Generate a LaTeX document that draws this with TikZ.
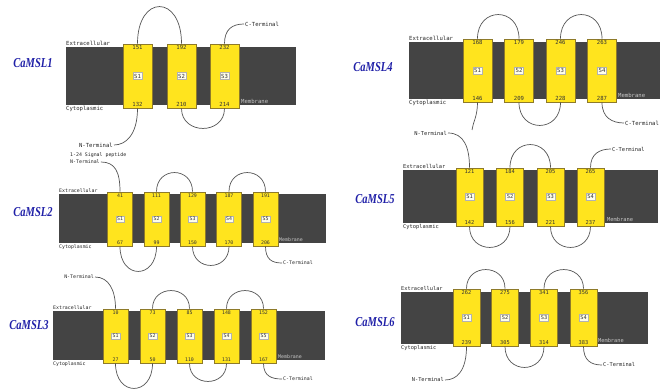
\documentclass[tikz,border=0pt]{standalone}
\usepackage{fontspec}
\newfontfamily\monof{DejaVu Sans Mono}
\newfontfamily\titlef{Liberation Serif}
\definecolor{membgray}{HTML}{444444}
\definecolor{boxfill}{HTML}{FFE41E}
\definecolor{boxedge}{HTML}{8E7A2A}
\definecolor{linegray}{HTML}{555555}
\definecolor{titleblue}{HTML}{2020A8}
\def\fs{5.6}
\tikzset{
  membrane/.style={fill=membgray},
  segbox/.style={rectangle, draw=boxedge, fill=boxfill, line width=0.9pt, inner sep=0pt},
  numtxt/.style={font=\monof\fontsize{\fs}{\fs}\selectfont, text=black!80, inner sep=0pt},
  slabel/.style={font=\monof\fontsize{\fs}{\fs}\selectfont, text=black!80, fill=white!92!yellow,
    draw=gray!60, line width=0.3pt, inner xsep=1.2pt, inner ysep=1.4pt},
  sidetxt/.style={font=\monof\fontsize{\fs}{\fs}\selectfont, text=black!85, inner sep=0pt},
  termtxt/.style={font=\monof\fontsize{\fs}{\fs}\selectfont, text=black!85, inner sep=1pt},
  memtxt/.style={font=\monof\fontsize{\fs}{\fs}\selectfont, text=gray!45, inner sep=0pt},
  conn/.style={draw=linegray, line width=0.7pt},
  title/.style={font=\titlef\bfseries\itshape\fontsize{10.5}{12}\selectfont, text=titleblue, inner sep=0pt},
}
% tall title lettering
\newcommand\tname[1]{\scalebox{1}[1.3]{#1}}
% one transmembrane segment: name, centre x, width, top y, bottom y, label, top residue, bottom residue
\newcommand\seg[8]{%
  \node[segbox, minimum width=#3pt, minimum height={(#5)-(#4)}] (#1) at (#2,{((#4)+(#5))/2}) {};
  \node[numtxt, anchor=north] (#1-t) at ([yshift=-2pt]#1.north) {#7};
  \node[numtxt, anchor=south] (#1-b) at ([yshift=2pt]#1.south) {#8};
  \node[slabel] (#1-l) at (#1.center) {#6};
}
% loops between the ends of two segments, with their height
\newcommand\uploop[3]{\draw[conn] (#1.north) .. controls +(0,{-4/3*(#3)}) and +(0,{-4/3*(#3)}) .. (#2.north);}
\newcommand\downloop[3]{\draw[conn] (#1.south) .. controls +(0,{4/3*(#3)}) and +(0,{4/3*(#3)}) .. (#2.south);}
% side labels of a membrane: name, left x, top y, bottom y, x of the membrane label
\newcommand\sides[5]{%
  \node[sidetxt, anchor=south west] (#1-ex) at (#2,{#3-1}) {Extracellular};
  \node[sidetxt, anchor=north west] (#1-cy) at (#2,{#4+1.5}) {Cytoplasmic};
  \node[memtxt, anchor=south west] (#1-mb) at (#5,{#4-1.5}) {Membrane};
}

\begin{document}
\begin{tikzpicture}[x=1pt,y=-1pt]
\useasboundingbox (0,0) rectangle (662,390);
\fill[white] (0,0) rectangle (662,390);

%% CaMSL1
\def\fs{5.6}
\node[title] (t1) at (33,63) {\tname{CaMSL1}};
\fill[membrane] (66,47) rectangle (296,105);
\sides{m1}{66}{47}{105}{241}
\seg{a1}{137.5}{29}{44}{108}{S1}{151}{132}
\seg{a2}{181.5}{29}{44}{108}{S2}{192}{210}
\seg{a3}{224.5}{29}{44}{108}{S3}{232}{214}
\uploop{a1}{a2}{37}
\downloop{a2}{a3}{20}
\node[termtxt, anchor=west] (a1C) at (244,24) {C-Terminal};
\draw[conn] (a3.north) .. controls +(0,-14) and +(-12,0) .. (a1C.west);
\node[termtxt, anchor=east] (a1N) at (114,145) {N-Terminal};
\draw[conn] (a1.south) .. controls +(0,26) and +(12,0) .. (a1N.east);

%% CaMSL4
\node[title] (t4) at (373,67) {\tname{CaMSL4}};
\fill[membrane] (409,42) rectangle (660,99);
\sides{m4}{409}{42}{99}{618}
\seg{d1}{477.5}{29}{39}{102}{S1}{168}{146}
\seg{d2}{519}{29}{39}{102}{S2}{179}{209}
\seg{d3}{560.5}{29}{39}{102}{S3}{246}{228}
\seg{d4}{602}{29}{39}{102}{S4}{263}{287}
\uploop{d1}{d2}{24}
\uploop{d3}{d4}{24}
\downloop{d2}{d3}{23}
\coordinate (d1N) at (472,130);
\draw[conn] (d1.south) .. controls +(0,14) and +(1,-8) .. (d1N);
\node[termtxt, anchor=west] (d4C) at (624,123) {C-Terminal};
\draw[conn] (d4.south) .. controls +(0,15) and +(-12,0) .. (d4C.west);

%% CaMSL2
\def\fs{4.9}
\node[title] (t2) at (33,212) {\tname{CaMSL2}};
\fill[membrane] (59,194) rectangle (326,243);
\sides{m2}{59}{194}{243}{279}
\seg{b1}{120}{25}{192}{246}{S1}{41}{67}
\seg{b2}{156.5}{25}{192}{246}{S2}{111}{99}
\seg{b3}{192.5}{25}{192}{246}{S3}{129}{150}
\seg{b4}{229}{25}{192}{246}{S4}{187}{170}
\seg{b5}{265.5}{25}{192}{246}{S5}{191}{206}
\uploop{b2}{b3}{19}
\uploop{b4}{b5}{19}
\downloop{b1}{b2}{25}
\downloop{b3}{b4}{19}
\node[termtxt, anchor=west] (b1P) at (69,155) {1-24 Signal peptide};
\node[termtxt, anchor=west] (b1N) at (69,162) {N-Terminal};
\draw[conn] (b1N.east) .. controls +(14,0) and +(0,-20) .. (b1.north);
\node[termtxt, anchor=west] (b5C) at (282,263) {C-Terminal};
\draw[conn] (b5.south) .. controls +(0,13) and +(-10,0) .. (b5C.west);

%% CaMSL3
\node[title] (t3) at (29,325) {\tname{CaMSL3}};
\fill[membrane] (53,311) rectangle (325,360);
\sides{m3}{53}{311}{360}{278}
\seg{c1}{115.5}{25}{309}{363}{S1}{10}{27}
\seg{c2}{152.5}{25}{309}{363}{S2}{73}{50}
\seg{c3}{189.5}{25}{309}{363}{S3}{85}{110}
\seg{c4}{226.5}{25}{309}{363}{S4}{148}{131}
\seg{c5}{263.5}{25}{309}{363}{S5}{152}{167}
\uploop{c2}{c3}{18}
\uploop{c4}{c5}{18}
\downloop{c1}{c2}{25}
\downloop{c3}{c4}{18}
\node[termtxt, anchor=east] (c1N) at (95,277) {N-Terminal};
\draw[conn] (c1N.east) .. controls +(14,0) and +(0,-18) .. (c1.north);
\node[termtxt, anchor=west] (c5C) at (282,379) {C-Terminal};
\draw[conn] (c5.south) .. controls +(0,13) and +(-10,0) .. (c5C.west);

%% CaMSL5
\def\fs{5.4}
\node[title] (t5) at (375,199) {\tname{CaMSL5}};
\fill[membrane] (403,170) rectangle (658,223);
\sides{m5}{403}{170}{223}{607}
\seg{e1}{469.5}{27}{168}{226}{S1}{121}{142}
\seg{e2}{510}{27}{168}{226}{S2}{184}{156}
\seg{e3}{550.5}{27}{168}{226}{S3}{205}{221}
\seg{e4}{590.5}{27}{168}{226}{S4}{265}{237}
\uploop{e2}{e3}{23}
\downloop{e1}{e2}{21}
\downloop{e3}{e4}{21}
\node[termtxt, anchor=east] (e1N) at (448,133) {N-Terminal};
\draw[conn] (e1N.east) .. controls +(16,0) and +(0,-20) .. (e1.north);
\node[termtxt, anchor=west] (e4C) at (611,149) {C-Terminal};
\draw[conn] (e4.north) .. controls +(0,-14) and +(-11,0) .. (e4C.west);

%% CaMSL6
\def\fs{5.3}
\node[title] (t6) at (375,322) {\tname{CaMSL6}};
\fill[membrane] (401,292) rectangle (648,344);
\sides{m6}{401}{292}{344}{598}
\seg{f1}{466.5}{27}{289}{346}{S1}{262}{239}
\seg{f2}{505}{27}{289}{346}{S2}{275}{305}
\seg{f3}{544}{27}{289}{346}{S3}{341}{314}
\seg{f4}{583.5}{27}{289}{346}{S4}{356}{383}
\uploop{f1}{f2}{19}
\uploop{f3}{f4}{19}
\downloop{f2}{f3}{21}
\node[termtxt, anchor=east] (f1N) at (445,380) {N-Terminal};
\draw[conn] (f1.south) .. controls +(0,24) and +(12,0) .. (f1N.east);
\node[termtxt, anchor=west] (f4C) at (602,365) {C-Terminal};
\draw[conn] (f4.south) .. controls +(0,14) and +(-11,0) .. (f4C.west);
\end{tikzpicture}
\end{document}
